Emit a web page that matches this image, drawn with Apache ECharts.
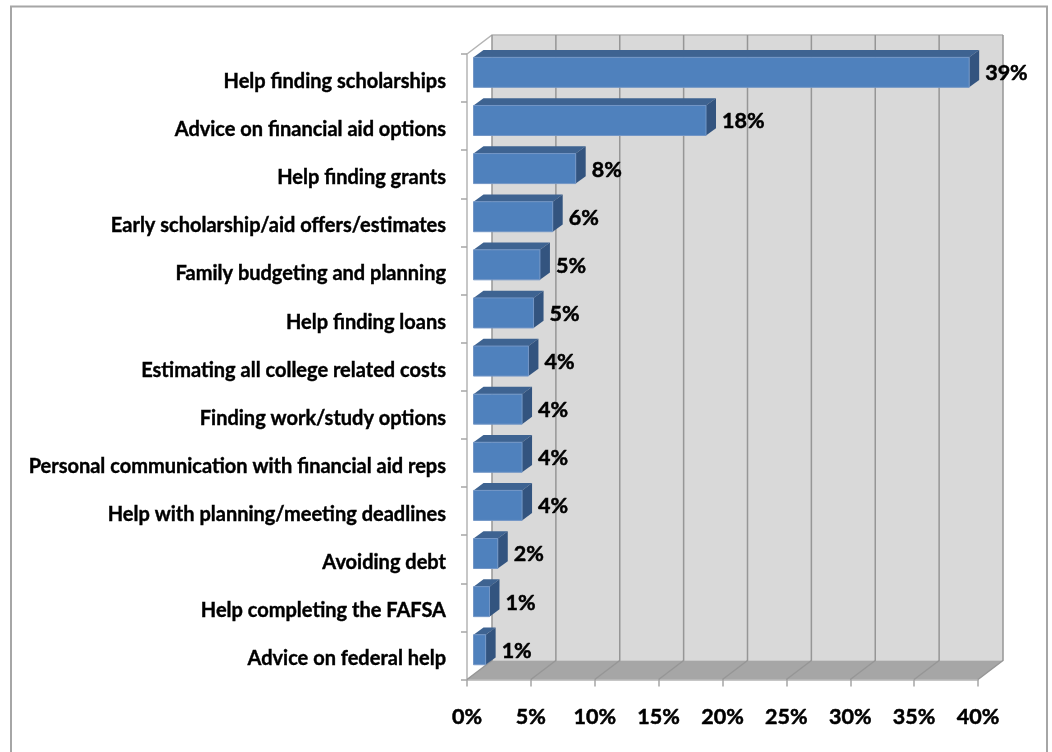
<!DOCTYPE html>
<html>
<head>
<meta charset="utf-8">
<title>Financial aid help</title>
<script src="https://cdn.jsdelivr.net/npm/echarts@6/dist/echarts.min.js"></script>
<style>
  html, body { margin: 0; padding: 0; background: #fff; }
  #chart { width: 1052px; height: 752px; }
</style>
</head>
<body>
<div id="chart"></div>
<script>
// values, labels are the rounded numbers it prints
const categories = [
  'Help finding scholarships',
  'Advice on financial aid options',
  'Help finding grants',
  'Early scholarship/aid offers/estimates',
  'Family budgeting and planning',
  'Help finding loans',
  'Estimating all college related costs',
  'Finding work/study options',
  'Personal communication with financial aid reps',
  'Help with planning/meeting deadlines',
  'Avoiding debt',
  'Help completing the FAFSA',
  'Advice on federal help'
];
const values = [38.8, 18.2, 8.0, 6.2, 5.2, 4.7, 4.3, 3.8, 3.8, 3.8, 1.9, 1.25, 0.95];
const valueLabels = ['39%', '18%', '8%', '6%', '5%', '5%', '4%', '4%', '4%', '4%', '2%', '1%', '1%'];
const gridTicks = [0, 5, 10, 15, 20, 25, 30, 35, 40];

// fake 3D: how far the back wall sits from the front plane
const depthX = 25;
const depthY = -19;
// bars sit a little inside that depth
const barOffsetX = 6.5;
const barOffsetY = -5.7;
const barDepthX = 10;
const barDepthY = -7.3;
const barHeight = 30;

const fontFamily = 'Lato, "Noto Sans", sans-serif';

function poly(points, fill, stroke, lineWidth) {
  return {
    type: 'polygon',
    shape: { points: points },
    style: { fill: fill, stroke: stroke || null, lineWidth: lineWidth || 0 }
  };
}

// back wall, floor and the grid lines running over them
function renderWalls(params, api) {
  const last = categories.length - 1;
  const halfBand = api.size([0, 1])[1] / 2;
  const left = api.coord([0, 0])[0];
  const right = api.coord([40, 0])[0];
  const top = api.coord([0, 0])[1] - halfBand;
  const bottom = api.coord([0, last])[1] + halfBand;

  const children = [
    poly([[left + depthX, top + depthY], [right + depthX, top + depthY],
      [right + depthX, bottom + depthY], [left + depthX, bottom + depthY]], '#d9d9d9'),
    poly([[left, bottom], [right, bottom], [right + depthX, bottom + depthY],
      [left + depthX, bottom + depthY]], '#a6a6a6'),
    {
      type: 'polyline',
      shape: { points: [[left, top], [left + depthX, top + depthY], [right + depthX, top + depthY]] },
      style: { fill: null, stroke: '#b4b4b4', lineWidth: 1.5 }
    }
  ];
  gridTicks.forEach(function (t) {
    const x = api.coord([t, 0])[0];
    children.push({
      type: 'polyline',
      shape: { points: [[x, bottom], [x + depthX, bottom + depthY], [x + depthX, top + depthY]] },
      style: { fill: null, stroke: '#969696', lineWidth: 1.5 }
    });
  });
  return { type: 'group', children: children };
}

// one box per row: top, side, front and the number next to it
function renderBar(params, api) {
  const start = api.coord([0, api.value(1)]);
  const end = api.coord([api.value(0), api.value(1)]);
  const x0 = start[0] + barOffsetX;
  const x1 = end[0] + barOffsetX;
  const y0 = start[1] + barOffsetY - barHeight / 2;
  const y1 = y0 + barHeight;
  return {
    type: 'group',
    children: [
      poly([[x0, y0], [x1, y0], [x1 + barDepthX, y0 + barDepthY], [x0 + barDepthX, y0 + barDepthY]], '#3e6391'),
      poly([[x1, y0], [x1 + barDepthX, y0 + barDepthY], [x1 + barDepthX, y1 + barDepthY], [x1, y1]], '#33547f'),
      poly([[x0, y0], [x1, y0], [x1, y1], [x0, y1]], '#4f81bd', '#7396c6', 1),
      {
        type: 'text',
        style: {
          text: valueLabels[params.dataIndex],
          x: x1 + barDepthX + 6,
          y: (y0 + y1) / 2 + 1,
          verticalAlign: 'middle',
          fill: '#000',
          stroke: '#000',
          lineWidth: 0.5,
          font: 'bold 21.5px ' + fontFamily
        }
      }
    ]
  };
}

const chart = echarts.init(document.getElementById('chart'));
chart.setOption({
  animation: false,
  backgroundColor: '#ffffff',
  textStyle: { fontFamily: fontFamily },
  graphic: [
    {
      // chart frame, runs off the bottom of the picture
      type: 'polyline',
      shape: { points: [[11, 760], [11, 6.5], [1047, 6.5], [1047, 760]] },
      style: { fill: null, stroke: '#a6a6a6', lineWidth: 2 },
      silent: true
    }
  ],
  grid: { left: 467, right: 74, top: 54, bottom: 72.5, containLabel: false },
  xAxis: {
    type: 'value',
    min: 0,
    max: 40,
    interval: 5,
    axisLine: { show: true, lineStyle: { color: '#b4b4b4', width: 1.5 } },
    axisTick: { show: true, length: 7, lineStyle: { color: '#a6a6a6', width: 1.5 } },
    splitLine: { show: false },
    axisLabel: {
      margin: 27,
      color: '#000',
      fontWeight: 'bold',
      fontSize: 21.5,
      fontFamily: fontFamily,
      textBorderColor: '#000',
      textBorderWidth: 0.5,
      formatter: '{value}%'
    }
  },
  yAxis: {
    type: 'category',
    inverse: true,
    data: categories,
    axisLine: { show: true, lineStyle: { color: '#b4b4b4', width: 1.5 } },
    axisTick: { show: true, length: 6, lineStyle: { color: '#a6a6a6', width: 1.5 } },
    axisLabel: {
      margin: 21,
      interval: 0,
      color: '#000',
      fontWeight: 'bold',
      fontSize: 20,
      fontFamily: fontFamily,
      textBorderColor: '#000',
      textBorderWidth: 0.4,
      // labels sit a few pixels under the band centre
      verticalAlign: 'top',
      lineHeight: 7
    }
  },
  series: [
    {
      type: 'custom',
      name: 'walls',
      renderItem: renderWalls,
      data: [[0, 0]],
      encode: { x: 0, y: 1 },
      clip: false,
      silent: true,
      z: 1
    },
    {
      type: 'custom',
      name: 'share',
      renderItem: renderBar,
      data: values.map(function (v, i) { return [v, i]; }),
      encode: { x: 0, y: 1 },
      clip: false,
      silent: true,
      z: 3
    }
  ]
});
</script>
</body>
</html>
